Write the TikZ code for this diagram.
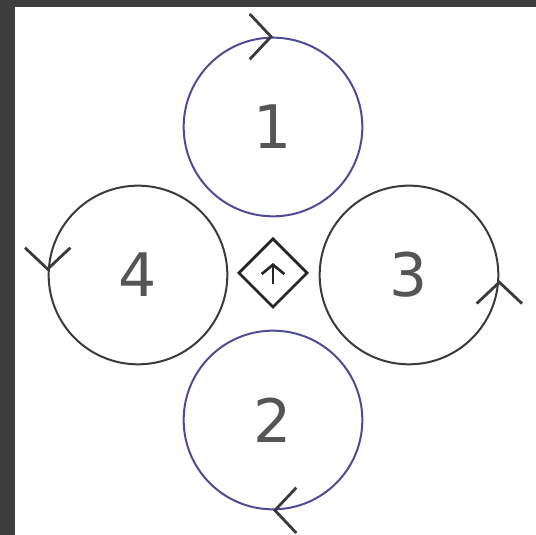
\documentclass[tikz,border=0pt]{standalone}
\usepackage{fontspec}
\setmainfont{DejaVu Sans}
\usetikzlibrary{arrows.meta,shapes.geometric}
\definecolor{ringblue}{RGB}{78,76,150}
\definecolor{ringgray}{RGB}{58,58,58}
\definecolor{digitgray}{RGB}{85,85,85}
\definecolor{framegray}{RGB}{62,62,62}

\begin{document}
\begin{tikzpicture}[x=0.75pt,y=0.75pt,
  ring/.style={circle,draw=ringgray,line width=1.5pt,minimum size=134pt,
    inner sep=0pt,font=\fontsize{45}{45}\selectfont,text=digitgray},
  barb/.style={line width=2.1pt,ringgray,
    -{Straight Barb[length=16pt,width=34pt]}},
]
\useasboundingbox (0,0) rectangle (536,535);
\fill[white] (0,0) rectangle (536,535);

% ============================================================
% window edge
% ============================================================
\fill[framegray] (0,0) rectangle (15,535);
\fill[framegray] (0,528) rectangle (536,535);

% ============================================================
% four rings round the hub
% ============================================================
\node[ring,draw=ringblue] (r1) at (273,408) {1};
\node[ring,draw=ringblue] (r2) at (273,115) {2};
\node[ring] (r3) at (409,260) {3};
\node[ring] (r4) at (138,260) {4};

% Sense of rotation
\draw[barb] ([xshift=-1pt]r1.north) -- (r1.north);
\draw[barb] ([xshift=1pt]r2.south) -- (r2.south);
\draw[barb] ([yshift=-5pt]r3.east) -- ([yshift=-4pt]r3.east);
\draw[barb] ([yshift=4pt]r4.west) -- ([yshift=3pt]r4.west);

% ============================================================
% hub
% ============================================================
\node[diamond,draw=black!85,line width=2pt,minimum size=52pt,
  inner sep=0pt] (hub) at (273,262) {};
\draw[line width=2pt,black!85,-{Straight Barb[length=7pt,width=17pt]}]
  ([yshift=-8pt]hub.center) -- ([yshift=7.5pt]hub.center);

\end{tikzpicture}
\end{document}
